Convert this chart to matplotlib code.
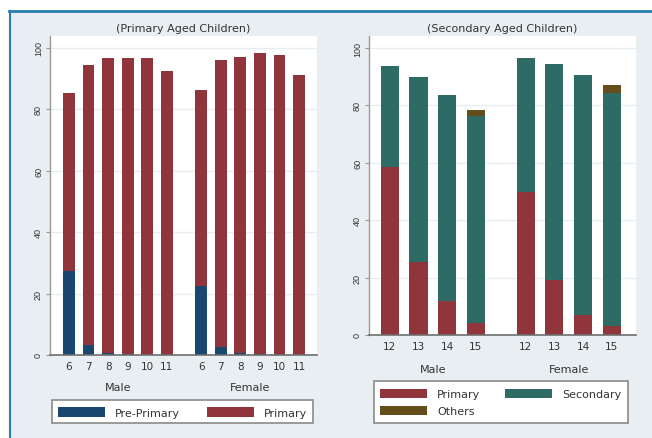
import matplotlib
matplotlib.use("Agg")
import matplotlib.pyplot as plt
from matplotlib.patches import Patch, Rectangle
from matplotlib.lines import Line2D
import numpy as np

plt.rcParams['font.family'] = ['DejaVu Sans']

# ---- data ----
groups = ["Male", "Female"]
ages_primary = ["6", "7", "8", "9", "10", "11"]
male_preprimary = [27.4, 3.4, 0.5, 0.2, 0.1, 0.1]
male_primary = [57.9, 91.1, 96.2, 96.5, 96.6, 92.3]
female_preprimary = [22.6, 2.5, 0.6, 0.2, 0.1, 0.1]
female_primary = [63.6, 93.6, 96.6, 98.1, 97.7, 91.2]

ages_secondary = ["12", "13", "14", "15"]
male_sec_primary = [58.6, 25.3, 11.8, 4.3]
male_sec_secondary = [35.2, 64.5, 71.7, 72.1]
male_sec_others = [0.0, 0.0, 0.0, 1.9]
female_sec_primary = [49.7, 19.2, 7.1, 3.2]
female_sec_secondary = [46.8, 75.1, 83.5, 81.1]
female_sec_others = [0.0, 0.0, 0.0, 2.9]

yticks = [0, 20, 40, 60, 80, 100]

# ---- style ----
NAVY = "#1a476f"
MAROON = "#90353b"
TEAL = "#2d6b64"
BROWN = "#634d1a"
BG = "#e8eef1"
GRID = "#e6eef0"
AXC = "#6e6e6e"
TXT = "#333333"
FS = 8.0

W, H = 652, 439
fig = plt.figure(figsize=(W / 100, H / 100), dpi=100)
fig.patch.set_facecolor(BG)
renderer = fig.canvas.get_renderer()

# white margins + blue frame
fig.add_artist(Rectangle((0, (H - 12) / H), 1, 12 / H, transform=fig.transFigure,
                         facecolor="white", edgecolor="none", zorder=-5))
fig.add_artist(Rectangle((0, 0), 9 / W, 1, transform=fig.transFigure,
                         facecolor="white", edgecolor="none", zorder=-5))
fig.add_artist(Line2D([9 / W, 1], [(H - 12) / H] * 2, transform=fig.transFigure, color="#2a7db0", lw=2))
fig.add_artist(Line2D([9.5 / W] * 2, [0, (H - 12) / H], transform=fig.transFigure, color="#2a7db0", lw=1.5))


def px_axes(x0, x1, ytop, ybot):
    return fig.add_axes([x0 / W, (H - ybot) / H, (x1 - x0) / W, (ybot - ytop) / H])


def style(ax, ytop):
    ax.set_facecolor("white")
    for s in ["top", "right"]:
        ax.spines[s].set_visible(False)
    ax.spines["left"].set_color("#9a9a9a")
    ax.spines["bottom"].set_color(AXC)
    ax.spines["left"].set_linewidth(1.0)
    ax.spines["bottom"].set_linewidth(1.2)
    ax.set_ylim(0, ytop)
    ax.set_yticks(yticks)
    ax.set_yticklabels([str(t) for t in yticks], rotation=90, va="center", fontsize=6.5, color=TXT,
                       family="Liberation Sans")
    ax.tick_params(axis="y", length=3, color="#9a9a9a", pad=2)
    ax.tick_params(axis="x", length=0, pad=4, labelsize=7.5, labelcolor=TXT)
    ax.yaxis.grid(True, color=GRID, lw=1)
    ax.set_axisbelow(True)


def text_w(s):
    t = fig.text(0, 0, s, fontsize=FS)
    w = t.get_window_extent(renderer).width
    t.remove()
    return w


def legend_box(x0, y0, x1, y1):
    fig.add_artist(Rectangle((x0 / W, (H - y1) / H), (x1 - x0) / W, (y1 - y0) / H,
                             transform=fig.transFigure, facecolor="white",
                             edgecolor="#8a8a8a", lw=1.2, zorder=1))


def make_legend(handles, ncol, patch_x, center_y, col2_x, col1_labels, labelspacing=0.0):
    fpx = FS * 100 / 72.0
    hl = 47 / fpx
    htp = 10 / fpx
    col1_end = patch_x + 47 + 10 + max(text_w(s) for s in col1_labels)
    cs = (col2_x - col1_end) / fpx
    leg = fig.legend(handles=handles, loc="center left", bbox_to_anchor=(patch_x / W, (H - center_y) / H),
                     ncol=ncol, fontsize=FS, frameon=False, handlelength=hl, handleheight=0.9,
                     handletextpad=htp, columnspacing=cs, borderpad=0, borderaxespad=0,
                     labelspacing=labelspacing)
    for t in leg.get_texts():
        t.set_color(TXT)
    return leg


# ---- left panel ----
axL = px_axes(50, 317, 37, 356)
style(axL, 103.9)
gap = 1.75
n1 = len(ages_primary)
xm = np.arange(n1)
xf = np.arange(n1) + n1 - 1 + gap
bw = 0.6
for x, pre, pri in [(xm, male_preprimary, male_primary), (xf, female_preprimary, female_primary)]:
    axL.bar(x, pre, width=bw, color=NAVY, zorder=2)
    axL.bar(x, pri, width=bw, bottom=pre, color=MAROON, zorder=2)
axL.set_xlim(-0.97, xf[-1] + 0.92)
axL.set_xticks(np.concatenate([xm, xf]))
axL.set_xticklabels(ages_primary + ages_primary)
for x, g in [(xm, groups[0]), (xf, groups[1])]:
    axL.text(x.mean(), -32 / 319, g, transform=axL.get_xaxis_transform(), ha="center", va="center",
             fontsize=FS, color=TXT)
axL.text(0.5, 1 + 8 / 319, "(Primary Aged Children)", transform=axL.transAxes, ha="center",
         va="center", fontsize=FS, color=TXT)
legend_box(52, 401, 313, 424)
make_legend([Patch(facecolor=NAVY, label="Pre-Primary"), Patch(facecolor=MAROON, label="Primary")],
            2, 58, 413.5, 207, ["Pre-Primary"])

# ---- right panel ----
axR = px_axes(369, 636, 37, 336)
style(axR, 104.2)
n2 = len(ages_secondary)
xm2 = np.arange(n2)
xf2 = np.arange(n2) + n2 - 1 + gap
bw2 = 0.63
for x, pri, sec, oth in [(xm2, male_sec_primary, male_sec_secondary, male_sec_others),
                         (xf2, female_sec_primary, female_sec_secondary, female_sec_others)]:
    pri = np.array(pri); sec = np.array(sec); oth = np.array(oth)
    axR.bar(x, pri, width=bw2, color=MAROON, zorder=2)
    axR.bar(x, sec, width=bw2, bottom=pri, color=TEAL, zorder=2)
    axR.bar(x, oth, width=bw2, bottom=pri + sec, color=BROWN, zorder=2)
axR.set_xlim(-0.73, xf2[-1] + 0.85)
axR.set_xticks(np.concatenate([xm2, xf2]))
axR.set_xticklabels(ages_secondary + ages_secondary)
for x, g in [(xm2, groups[0]), (xf2, groups[1])]:
    axR.text(x.mean(), -34 / 299, g, transform=axR.get_xaxis_transform(), ha="center", va="center",
             fontsize=FS, color=TXT)
axR.text(0.5, 1 + 8 / 299, "(Secondary Aged Children)", transform=axR.transAxes, ha="center",
         va="center", fontsize=FS, color=TXT)
legend_box(374, 382, 628, 424)
make_legend([Patch(facecolor=MAROON, label="Primary"), Patch(facecolor=BROWN, label="Others"),
             Patch(facecolor=TEAL, label="Secondary")],
            2, 380, 403.5, 505, ["Primary", "Others"], labelspacing=0.55)

fig.savefig("out.png", dpi=100, facecolor=fig.get_facecolor())
